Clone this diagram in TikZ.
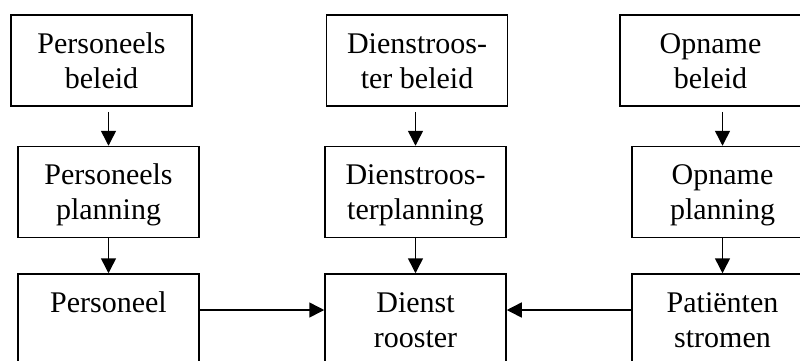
\documentclass[tikz,border=0pt]{standalone}
\usepackage{fontspec}
\setmainfont{Liberation Serif}
\usetikzlibrary{arrows.meta}
% line strut with the ascent/descent of the serif face
\newcommand{\lnstrut}{\rule[-6.5pt]{0pt}{33.2pt}}
\begin{document}
\begin{tikzpicture}[x=1pt,y=-1pt,
  box/.style={draw,line width=1.5pt,rectangle,minimum width=181pt,minimum height=91pt,
    inner sep=0pt,align=center,font=\fontsize{30}{35}\selectfont},
  arr/.style={line width=1.5pt,-{Triangle[length=15pt,width=15pt]}}]
\useasboundingbox (0,0) rectangle (800,360);
\clip (0,0) rectangle (800,360);
% policy row
\node[box] (a1) at (101.5,60.5) {\lnstrut Personeels\\\lnstrut beleid};
\node[box] (a2) at (417,60.5) {\lnstrut Dienstroos-\\\lnstrut ter beleid};
\node[box] (a3) at (710.5,60.5) {\lnstrut Opname\\\lnstrut beleid};
% planning row
\node[box] (b1) at (108.5,192) {\lnstrut Personeels\\\lnstrut planning};
\node[box] (b2) at (415.5,192) {\lnstrut Dienstroos-\\\lnstrut terplanning};
\node[box] (b3) at (722.5,192) {\lnstrut Opname\\\lnstrut planning};
% result row
\node[box] (c1) at (108.5,319.5) {\lnstrut Personeel\\\lnstrut};
\node[box] (c2) at (415.5,319.5) {\lnstrut Dienst\\\lnstrut rooster};
\node[box] (c3) at (722.5,319.5) {\lnstrut Patiënten\\\lnstrut stromen};
% arrow starts just below the policy boxes
\coordinate (s1) at (b1.north |- a1.south);
\coordinate (s2) at (b2.north |- a2.south);
\coordinate (s3) at (b3.north |- a3.south);
\draw[arr] ([yshift=-5pt]s1) -- (b1.north);
\draw[arr] ([yshift=-5pt]s2) -- (b2.north);
\draw[arr] ([yshift=-5pt]s3) -- (b3.north);
\draw[arr] (b1.south) -- (c1.north);
\draw[arr] (b2.south) -- (c2.north);
\draw[arr] (b3.south) -- (c3.north);
\draw[arr] ([yshift=9.5pt]c1.east) -- ([yshift=9.5pt]c2.west);
\draw[arr] ([yshift=9.5pt]c3.west) -- ([yshift=9.5pt]c2.east);
\end{tikzpicture}
\end{document}
